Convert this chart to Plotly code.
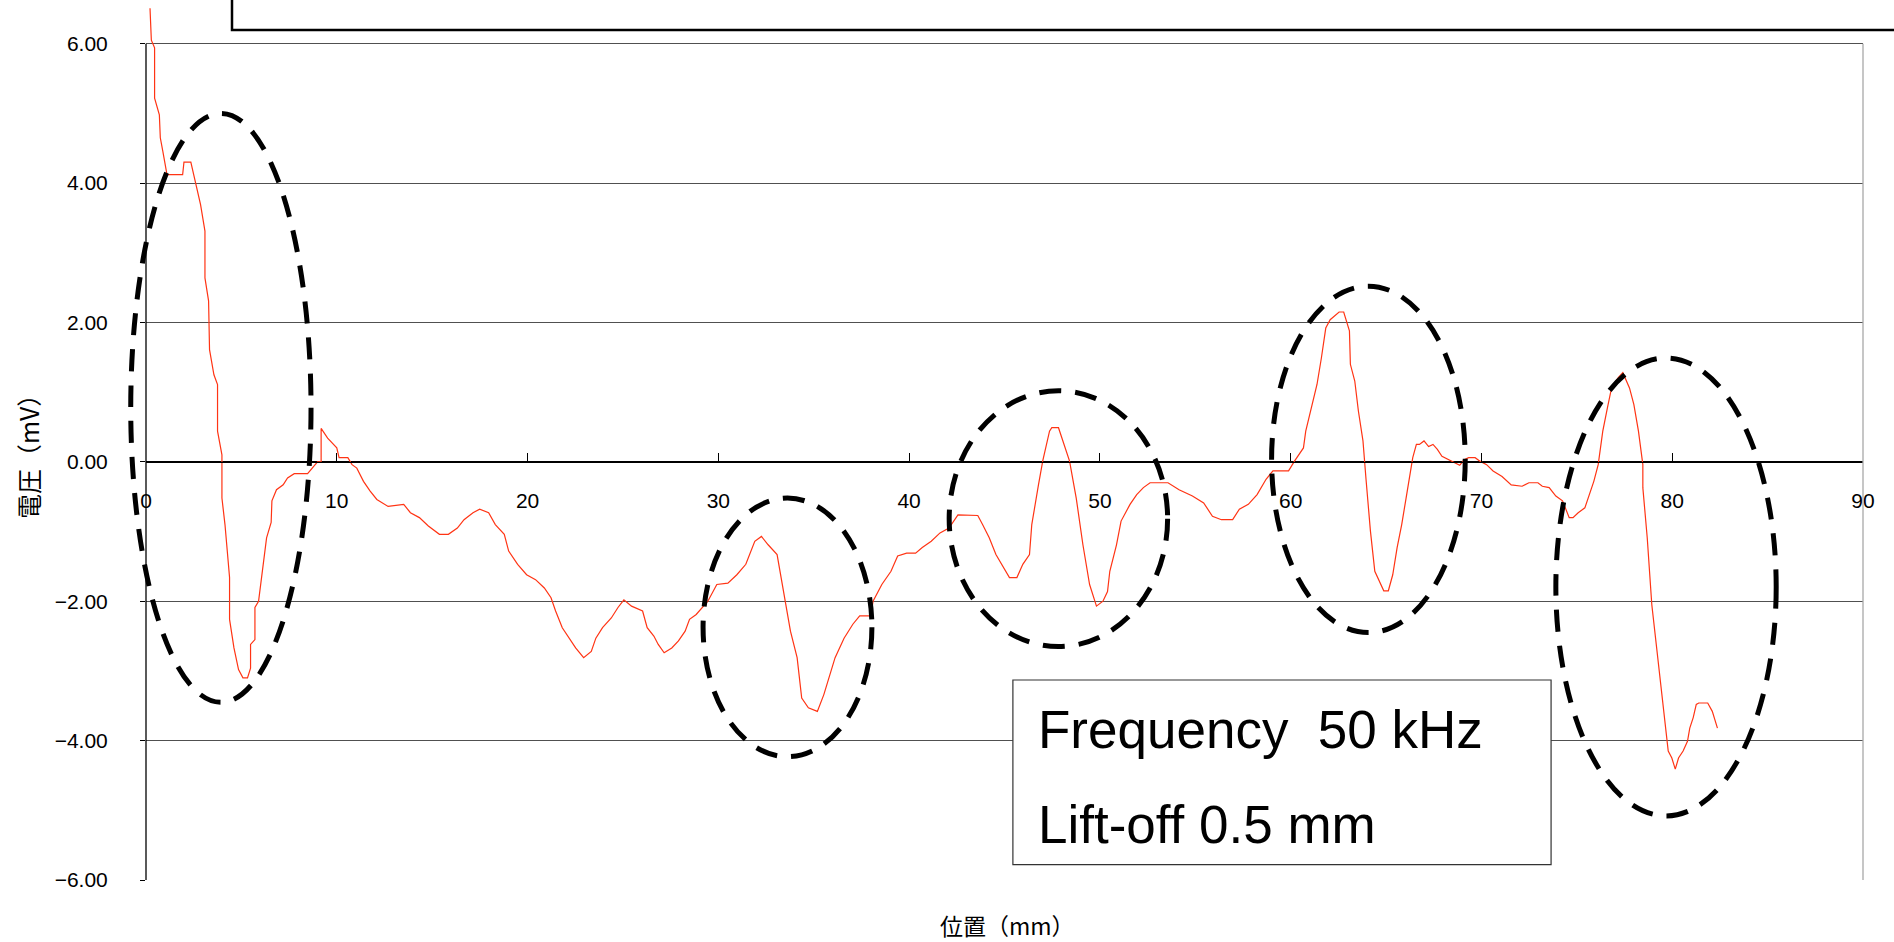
import plotly.graph_objects as go

# ---------------- data ----------------
position_mm = [0.21, 0.28, 0.45, 0.45, 0.70, 0.75, 0.88, 1.10, 1.92, 1.99, 2.35, 2.62, 2.86, 3.09, 3.09,
               3.28, 3.33, 3.56, 3.75, 3.75, 3.98, 3.98, 4.14, 4.38, 4.38, 4.61, 4.85, 5.08, 5.32, 5.48,
               5.48, 5.71, 5.71, 5.90, 6.13, 6.32, 6.56, 6.60, 6.84, 7.19, 7.42, 7.77, 8.47, 8.83, 8.99,
               9.18, 9.18, 9.52, 10.00, 10.12, 10.58, 10.80, 11.05, 11.40, 11.75, 12.10, 12.69, 13.51, 13.86, 14.33,
               14.80, 15.38, 15.85, 16.32, 16.67, 17.14, 17.49, 17.96, 18.31, 18.78, 19.01, 19.48, 19.95, 20.42, 20.88,
               21.23, 21.47, 21.82, 22.17, 22.52, 22.94, 23.34, 23.58, 23.93, 24.39, 24.74, 25.05, 25.45, 26.03, 26.27,
               26.62, 26.85, 27.16, 27.56, 27.91, 28.26, 28.49, 28.84, 29.45, 29.92, 30.50, 30.97, 31.44, 31.91, 32.26,
               32.61, 33.08, 33.43, 33.78, 34.13, 34.37, 34.72, 35.19, 35.53, 35.89, 36.12, 36.59, 37.05, 37.41, 37.99,
               38.11, 38.57, 39.05, 39.40, 39.87, 40.34, 40.69, 41.16, 41.62, 42.09, 42.56, 43.60, 43.85, 44.20, 44.55,
               44.90, 45.26, 45.65, 45.96, 46.31, 46.43, 46.78, 47.01, 47.36, 47.48, 47.83, 48.07, 48.41, 48.76, 49.11,
               49.46, 49.70, 49.82, 50.16, 50.40, 50.52, 50.87, 51.11, 51.58, 51.93, 52.28, 52.63, 53.57, 54.15, 54.85,
               55.44, 55.90, 56.37, 56.96, 57.31, 57.78, 58.24, 58.71, 59.07, 59.89, 60.20, 60.67, 60.79, 61.14, 61.38,
               61.61, 61.84, 62.07, 62.31, 62.54, 62.78, 62.89, 63.08, 63.13, 63.36, 63.55, 63.79, 63.95, 64.18, 64.41,
               64.65, 64.88, 65.12, 65.35, 65.58, 65.82, 66.05, 66.22, 66.40, 66.59, 66.75, 66.99, 67.23, 67.46, 67.69,
               67.93, 68.28, 68.86, 69.09, 69.33, 69.67, 69.92, 70.27, 70.61, 71.08, 71.56, 72.13, 72.49, 72.96, 73.19,
               73.55, 73.90, 74.25, 74.60, 74.80, 75.07, 75.42, 75.65, 75.89, 76.12, 76.36, 76.60, 76.82, 77.17, 77.41,
               77.76, 77.99, 78.23, 78.46, 78.46, 78.69, 78.93, 79.16, 79.40, 79.63, 79.79, 79.98, 80.16, 80.33, 80.57,
               80.80, 80.92, 81.10, 81.26, 81.39, 81.86, 82.10, 82.37]

voltage_mv = [6.51, 6.05, 5.94, 5.22, 4.98, 4.65, 4.46, 4.12, 4.12, 4.30, 4.30, 4.00, 3.69, 3.31, 2.64,
              2.31, 1.61, 1.25, 1.11, 0.44, 0.10, -0.52, -0.90, -1.66, -2.26, -2.67, -2.98, -3.10, -3.10, -2.96,
              -2.62, -2.55, -2.09, -2.00, -1.47, -1.09, -0.87, -0.56, -0.40, -0.33, -0.23, -0.17, -0.17, -0.06, 0.00,
              0.00, 0.48, 0.34, 0.20, 0.06, 0.06, -0.04, -0.09, -0.28, -0.42, -0.54, -0.64, -0.61, -0.73, -0.80,
              -0.92, -1.04, -1.04, -0.95, -0.83, -0.73, -0.68, -0.73, -0.90, -1.04, -1.28, -1.47, -1.62, -1.69, -1.81,
              -1.95, -2.14, -2.38, -2.53, -2.67, -2.81, -2.72, -2.53, -2.38, -2.24, -2.09, -1.98, -2.07, -2.14, -2.38,
              -2.50, -2.62, -2.74, -2.67, -2.57, -2.43, -2.26, -2.19, -2.00, -1.76, -1.74, -1.62, -1.47, -1.14, -1.07,
              -1.19, -1.33, -1.90, -2.43, -2.81, -3.39, -3.53, -3.58, -3.34, -3.00, -2.81, -2.53, -2.33, -2.21, -2.21,
              -2.00, -1.76, -1.57, -1.35, -1.31, -1.31, -1.23, -1.14, -1.02, -0.95, -0.76, -0.77, -0.90, -1.09, -1.33,
              -1.50, -1.66, -1.66, -1.47, -1.33, -0.90, -0.33, 0.02, 0.44, 0.49, 0.49, 0.30, 0.01, -0.52, -1.19,
              -1.76, -1.95, -2.07, -2.00, -1.86, -1.57, -1.19, -0.85, -0.61, -0.47, -0.37, -0.30, -0.30, -0.40, -0.49,
              -0.59, -0.78, -0.83, -0.83, -0.68, -0.61, -0.47, -0.25, -0.13, -0.13, 0.01, 0.20, 0.44, 0.82, 1.11,
              1.49, 1.92, 2.04, 2.09, 2.15, 2.15, 2.04, 1.88, 1.40, 1.16, 0.73, 0.30, -0.25, -0.99, -1.57,
              -1.71, -1.85, -1.85, -1.62, -1.23, -0.90, -0.52, -0.23, 0.06, 0.25, 0.25, 0.30, 0.22, 0.25, 0.18,
              0.08, 0.03, -0.05, 0.03, 0.06, 0.06, 0.01, -0.04, -0.13, -0.21, -0.33, -0.35, -0.30, -0.30, -0.35,
              -0.37, -0.49, -0.56, -0.80, -0.80, -0.73, -0.66, -0.47, -0.28, -0.04, 0.44, 0.77, 1.06, 1.21, 1.28,
              1.06, 0.82, 0.44, -0.04, -0.37, -1.09, -2.05, -2.62, -3.20, -3.72, -4.15, -4.25, -4.41, -4.25, -4.15,
              -4.01, -3.82, -3.67, -3.48, -3.46, -3.46, -3.58, -3.82]

x_ticks = [0, 10, 20, 30, 40, 50, 60, 70, 80, 90]
y_ticks = [-6, -4, -2, 0, 2, 4, 6]

# dashed ellipses (data units): left, right, bottom, top
ell_left = [-0.80, 29.20, 42.10, 59.00, 73.90]
ell_right = [8.65, 38.05, 53.55, 69.15, 85.45]
ell_bottom = [-3.45, -4.23, -2.65, -2.45, -5.08]
ell_top = [5.00, -0.52, 1.02, 2.52, 1.49]

# info box (data units)
box_x = [45.44, 73.65]
box_y = [-5.78, -3.13]
box_lines = ["Frequency\u00a0 50 kHz", "Lift-off 0.5 mm"]
box_line_y = [-3.84, -5.21]

x_title = "位置（mm）"
y_title = "電圧（mV）"

# ---------------- layout helpers ----------------
X_MIN, X_MAX = 0, 90
Y_MIN, Y_TOP = -6, 6.627   # range extends above the 6.00 frame line


def px(x):
    return (x - X_MIN) / (X_MAX - X_MIN)


def py(y):
    return (y - Y_MIN) / (Y_TOP - Y_MIN)


fig = go.Figure()
fig.add_trace(go.Scatter(
    x=position_mm, y=voltage_mv, mode="lines",
    line=dict(color="#ff3414", width=1.2),
    showlegend=False, hoverinfo="skip",
))

shapes = []
# frame: left axis, right border
shapes.append(dict(type="line", xref="paper", yref="paper", x0=0, x1=0,
                   y0=py(-6), y1=py(6), line=dict(color="black", width=1.3)))
shapes.append(dict(type="line", xref="paper", yref="paper", x0=1, x1=1,
                   y0=py(-6), y1=py(6), line=dict(color="#a8a8a8", width=1.3)))
# ellipses
for l, r, b, t in zip(ell_left, ell_right, ell_bottom, ell_top):
    shapes.append(dict(type="circle", xref="paper", yref="paper",
                       x0=px(l), x1=px(r), y0=py(b), y1=py(t),
                       line=dict(color="black", width=5, dash="22px,14px"),
                       layer="above"))
# info box
shapes.append(dict(type="rect", xref="paper", yref="paper",
                   x0=px(box_x[0]), x1=px(box_x[1]), y0=py(box_y[0]), y1=py(box_y[1]),
                   fillcolor="white", line=dict(color="#333333", width=1.2), layer="above"))
# title box at top (mostly outside the visible page)
shapes.append(dict(type="rect", xref="paper", yref="paper",
                   x0=(232 - 146) / 1717, x1=(1910 - 146) / 1717,
                   y0=(880 - 30) / 880, y1=(880 + 20) / 880,
                   fillcolor="white", line=dict(color="black", width=2.5), layer="above"))

annotations = []
for txt, yy in zip(box_lines, box_line_y):
    annotations.append(dict(xref="paper", yref="paper", x=px(box_x[0] + 1.2), y=py(yy),
                            xanchor="left", yanchor="middle", text=txt, showarrow=False,
                            font=dict(family="Liberation Sans, Arial", size=53, color="black")))
annotations.append(dict(xref="paper", yref="paper", x=(1007 - 146) / 1717, y=(880 - 925) / 880,
                        xanchor="center", yanchor="middle", text=x_title, showarrow=False,
                        font=dict(family="Noto Sans CJK JP", size=23, color="black")))
annotations.append(dict(xref="paper", yref="paper", x=(28 - 146) / 1717, y=(880 - 451) / 880,
                        xanchor="center", yanchor="middle", text=y_title, showarrow=False,
                        textangle=-90,
                        font=dict(family="Noto Sans CJK JP", size=25, color="black")))

fig.update_layout(
    width=1894, height=942,
    margin=dict(l=146, r=31, t=0, b=62, pad=0),
    paper_bgcolor="white", plot_bgcolor="white",
    shapes=shapes, annotations=annotations,
    font=dict(family="Liberation Sans, Arial", size=21, color="black"),
    xaxis=dict(range=[X_MIN, X_MAX], tickvals=x_ticks, ticks="inside", ticklen=9,
               tickcolor="black", tickwidth=1, showline=True, linecolor="black", linewidth=1.3,
               anchor="free", position=py(0), showgrid=False, zeroline=False,
               ticklabelstandoff=20, automargin=False,
               tickfont=dict(family="Liberation Sans, Arial", size=21)),
    yaxis=dict(range=[Y_MIN, Y_TOP], tickvals=y_ticks, tickformat=".2f",
               ticks="outside", ticklen=5, tickcolor="black",
               showgrid=True, gridcolor="#505050", gridwidth=1.3,
               zeroline=True, zerolinecolor="black", zerolinewidth=1.3,
               showline=False, ticklabelstandoff=28, automargin=False,
               tickfont=dict(family="Liberation Sans, Arial", size=21)),
)

fig.write_html("out.html")
